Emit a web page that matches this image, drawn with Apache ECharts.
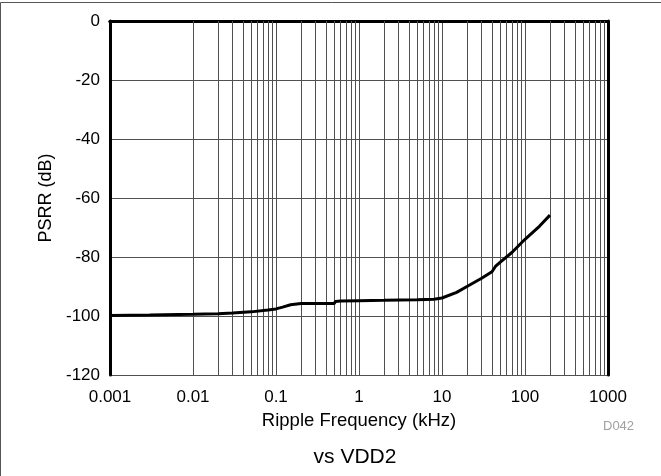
<!DOCTYPE html>
<html>
<head>
<meta charset="utf-8">
<script src="https://cdn.jsdelivr.net/npm/echarts@6/dist/echarts.min.js"></script>
<style>
html,body{margin:0;padding:0;background:#fff;}
#c{width:661px;height:476px;}
</style>
</head>
<body>
<div id="c"></div>
<script>
// Data
var freqKHz = [0.001, 0.003, 0.01, 0.02, 0.03, 0.05, 0.08, 0.1, 0.12, 0.15, 0.2, 0.3, 0.5, 0.52, 0.6, 1, 2, 5, 8, 10, 15, 20, 30, 40, 44, 50, 70, 100, 150, 200];
var psrrDb  = [-99.8, -99.7, -99.4, -99.2, -99.0, -98.6, -98.0, -97.6, -97.0, -96.2, -95.8, -95.8, -95.8, -95.1, -94.9, -94.8, -94.7, -94.5, -94.3, -93.9, -92.0, -90.0, -87.2, -85.0, -83.2, -81.8, -78.4, -74.0, -69.5, -65.8];
var xTickLabels = ['0.001', '0.01', '0.1', '1', '10', '100', '1000'];
var yTickLabels = ['-120', '-100', '-80', '-60', '-40', '-20', '0'];
var decades = [0.001, 0.01, 0.1, 1, 10, 100];
var minorMultipliers = [2, 3, 4, 5, 6, 7, 8, 9];

var minorLines = [];
decades.forEach(function (d) {
  minorMultipliers.forEach(function (m) {
    minorLines.push({ xAxis: +(d * m).toPrecision(3) });
  });
});

var font = 'Liberation Sans, Arial, Helvetica, sans-serif';
var gridColor = '#505050';
var chart = echarts.init(document.getElementById('c'), null, { renderer: 'canvas' });
chart.setOption({
  animation: false,
  backgroundColor: '#fff',
  graphic: [
    { type: 'rect', shape: { x: 0.5, y: 2.5, width: 700, height: 600 }, style: { fill: 'none', stroke: '#555', lineWidth: 1 }, silent: true },
    { type: 'text', x: 603, y: 420, style: { text: 'D042', fill: '#a0a0a0', font: '13px ' + font } },
    { type: 'text', x: 355, y: 457, style: { text: 'vs VDD2', fill: '#000', font: '21px ' + font, textAlign: 'center', textVerticalAlign: 'middle' } }
  ],
  grid: { left: 110, right: 53, top: 21, bottom: 101, containLabel: false },
  xAxis: [
    {
      type: 'log', logBase: 10, min: 0.001, max: 1000, position: 'bottom',
      name: 'Ripple Frequency (kHz)', nameLocation: 'middle', nameGap: 36,
      nameTextStyle: { fontFamily: font, fontSize: 18.5, color: '#000' },
      axisLine: { show: true, lineStyle: { color: '#000', width: 3 } },
      axisTick: { show: false },
      axisLabel: {
        fontFamily: font, fontSize: 17, color: '#000', margin: 14,
        formatter: function (v) { return xTickLabels[Math.round(Math.log10(v)) + 3]; }
      },
      splitLine: { show: true, lineStyle: { color: gridColor, width: 1 } }
    },
    {
      type: 'log', logBase: 10, min: 0.001, max: 1000, position: 'top',
      axisLine: { show: true, lineStyle: { color: '#000', width: 3 } },
      axisTick: { show: false }, axisLabel: { show: false }, splitLine: { show: false }
    }
  ],
  yAxis: [
    {
      type: 'value', min: -120, max: 0, interval: 20, position: 'left',
      name: 'PSRR (dB)', nameLocation: 'middle', nameGap: 55, nameRotate: 90,
      nameTextStyle: { fontFamily: font, fontSize: 18, color: '#000' },
      axisLine: { show: true, lineStyle: { color: '#000', width: 3 } },
      axisTick: { show: false },
      axisLabel: {
        fontFamily: font, fontSize: 17, color: '#000', margin: 10,
        formatter: function (v) { return yTickLabels[Math.round((v + 120) / 20)]; }
      },
      splitLine: { show: true, lineStyle: { color: gridColor, width: 1 } }
    },
    {
      type: 'value', min: -120, max: 0, interval: 20, position: 'right',
      axisLine: { show: true, lineStyle: { color: '#000', width: 3 } },
      axisTick: { show: false }, axisLabel: { show: false }, splitLine: { show: false }
    }
  ],
  series: [
    {
      type: 'line', xAxisIndex: 0, yAxisIndex: 0, data: [], silent: true,
      markLine: {
        silent: true, symbol: ['none', 'none'], label: { show: false },
        lineStyle: { color: gridColor, width: 1, type: 'solid' },
        data: minorLines, animation: false
      }
    },
    {
      type: 'line', xAxisIndex: 0, yAxisIndex: 0, showSymbol: false, smooth: false,
      lineStyle: { color: '#000', width: 3 }, z: 5,
      data: freqKHz.map(function (f, i) { return [f, psrrDb[i]]; })
    }
  ]
});
</script>
</body>
</html>
